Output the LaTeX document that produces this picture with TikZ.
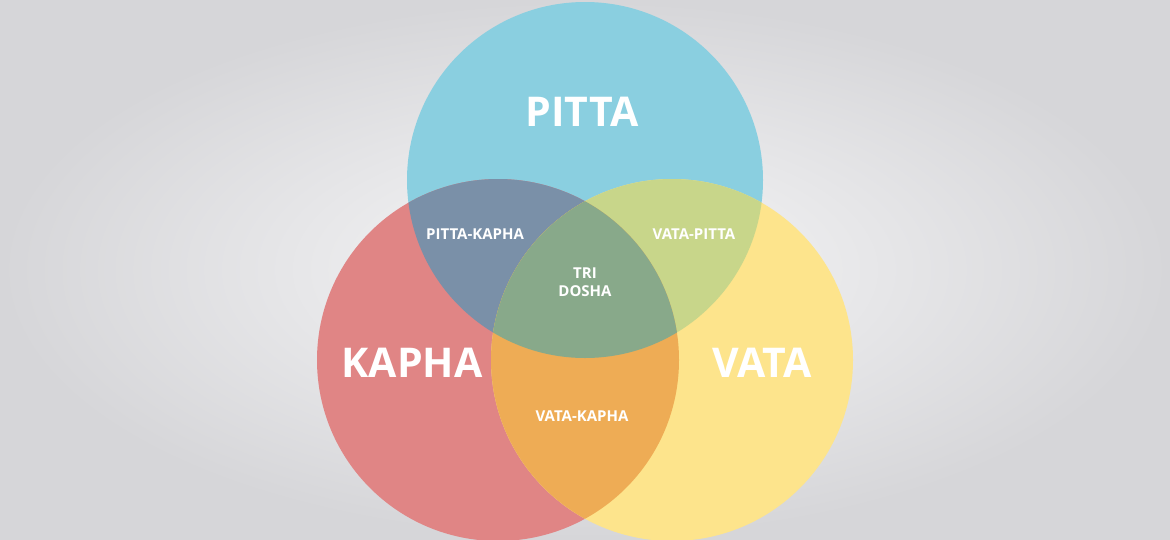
\documentclass[tikz,border=0pt]{standalone}
\usepackage{fontspec}
\setmainfont{Open Sans}
\begin{document}
\begin{tikzpicture}[x=1pt,y=-1pt,
  big/.style={text=white,font=\bfseries\fontsize{41}{44}\selectfont},
  small/.style={text=white,font=\bfseries\fontsize{15}{18}\selectfont,align=center}]
\definecolor{bgo}{HTML}{D6D6D9}\definecolor{bgi}{HTML}{F7F7F8}
\definecolor{cp}{HTML}{8ACFE0}\definecolor{ck}{HTML}{E08585}\definecolor{cv}{HTML}{FDE48C}
\definecolor{cpk}{HTML}{7A90A8}\definecolor{cvp}{HTML}{C8D68A}\definecolor{cvk}{HTML}{EEAC55}\definecolor{ct}{HTML}{88A98A}
\useasboundingbox (0,0) rectangle (1170,539);
\shade[inner color=bgi,outer color=bgo] (0,0) rectangle (1170,539);
\coordinate (P) at (585,180); \coordinate (K) at (498,360); \coordinate (V) at (672,360);
\fill[cp] (P) circle (178);
\fill[ck] (K) circle (181);
\fill[cv] (V) circle (181);
\begin{scope}\clip (P) circle (178); \fill[cpk] (K) circle (181); \fill[cvp] (V) circle (181);\end{scope}
\begin{scope}\clip (K) circle (181); \fill[cvk] (V) circle (181);
  \clip (V) circle (181); \fill[ct] (P) circle (178);\end{scope}
\node[big] (pt) at (582,112) {PITTA};
\node[big] (kp) at (412,363) {KAPHA};
\node[big] (vt) at (762,363) {VATA};
\node[small] (pk) at (475,234) {PITTA-KAPHA};
\node[small] (vp) at (694,234) {VATA-PITTA};
\node[small] (td) at (585,282) {TRI\\DOSHA};
\node[small] (vk) at (582,416) {VATA-KAPHA};
\end{tikzpicture}
\end{document}
